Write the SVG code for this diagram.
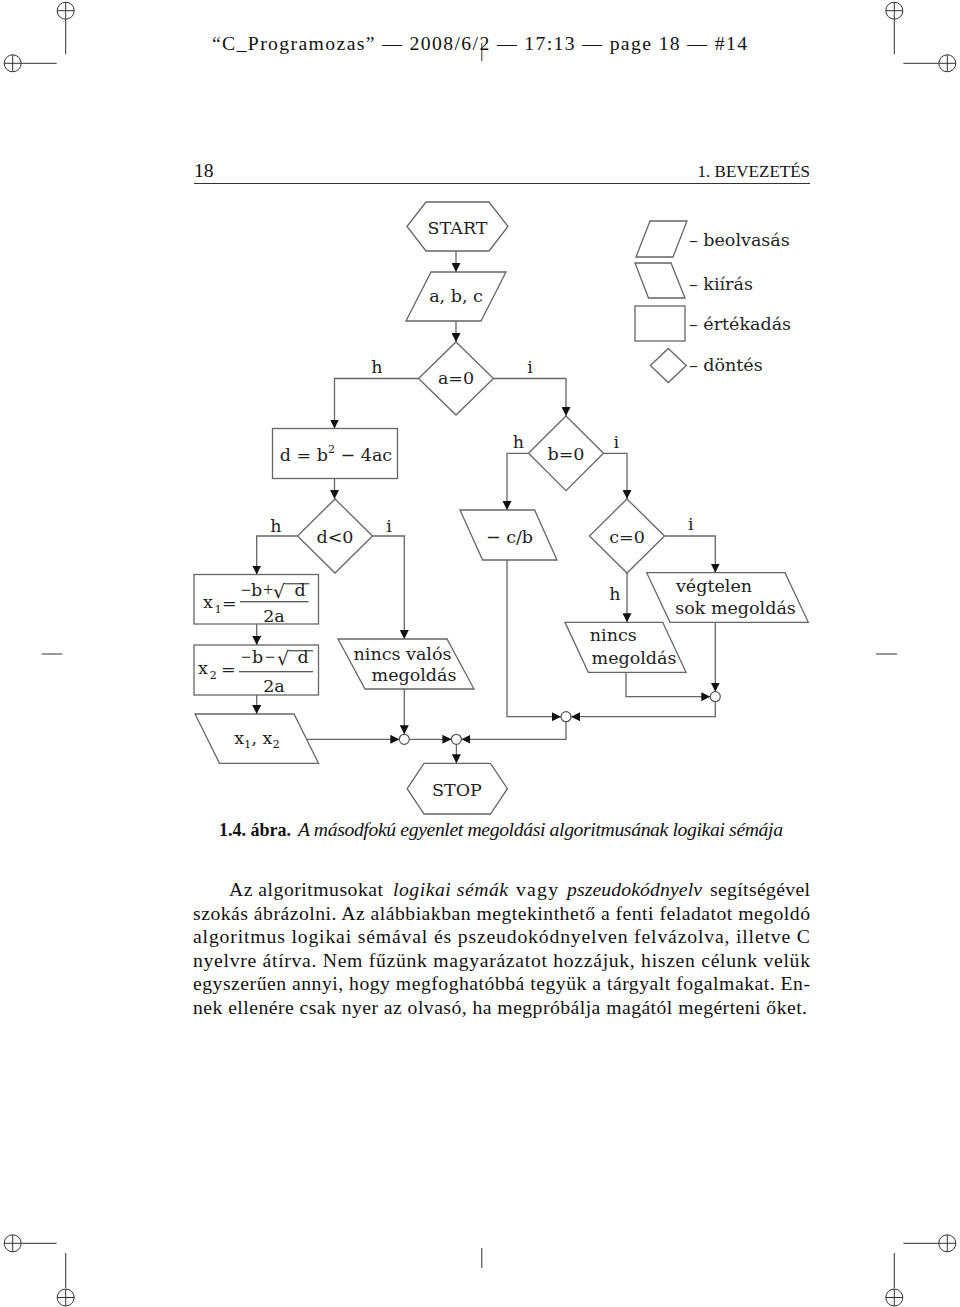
<svg xmlns="http://www.w3.org/2000/svg" width="960" height="1307" viewBox="0 0 960 1307">
<style>
.sh{fill:#fff;stroke:#666;stroke-width:1.3}
.cn{fill:none;stroke:#666;stroke-width:1.3}
.jn{fill:#fff;stroke:#555;stroke-width:1.2}
.t{font-family:"DejaVu Serif",serif;font-size:17.5px;fill:#222;text-anchor:middle}
.tl{font-family:"DejaVu Serif",serif;font-size:17.5px;fill:#222}
.op{font-family:"Liberation Serif",serif;font-size:18px;fill:#222;text-anchor:middle}
.sub{font-family:"DejaVu Serif",serif;font-size:11.5px;fill:#222}
.pg{font-family:"Liberation Serif",serif;font-size:19.7px;fill:#111}
.it{font-style:italic}
.bd{font-weight:bold}
.mk{fill:none;stroke:#333;stroke-width:1}
</style>
<defs>
<marker id="ah" viewBox="0 0 10 10" refX="10" refY="5" markerWidth="9" markerHeight="9" markerUnits="userSpaceOnUse" orient="auto"><path d="M0,0 L10,5 L0,10 z" fill="#111"/></marker>
<g id="reg"><ellipse cx="0" cy="0" rx="8.5" ry="8.5"/><line x1="-8.5" y1="0" x2="8.5" y2="0"/><line x1="0" y1="-8.5" x2="0" y2="8.5"/></g>
</defs>

<!-- page marks -->
<g id="page-marks" class="mk">
<use href="#reg" x="65.7" y="10.7"/><line x1="65.7" y1="19.3" x2="65.7" y2="54.3"/>
<use href="#reg" x="12.7" y="63.3"/><line x1="21.3" y1="63.3" x2="56.7" y2="63.3"/>
<use href="#reg" x="894.3" y="10.7"/><line x1="894.3" y1="19.3" x2="894.3" y2="54.3"/>
<use href="#reg" x="947.3" y="63.3"/><line x1="903.3" y1="63.3" x2="938.7" y2="63.3"/>
<use href="#reg" x="12.7" y="1243.3"/><line x1="21.3" y1="1243.3" x2="56.7" y2="1243.3"/>
<use href="#reg" x="65.7" y="1297.5"/><line x1="65.7" y1="1253" x2="65.7" y2="1288"/>
<use href="#reg" x="947.3" y="1243.3"/><line x1="903.3" y1="1243.3" x2="938.7" y2="1243.3"/>
<use href="#reg" x="894.3" y="1297.5"/><line x1="894.3" y1="1253" x2="894.3" y2="1288"/>
<line x1="481.8" y1="43" x2="481.8" y2="61"/>
<line x1="481.8" y1="1248" x2="481.8" y2="1268"/>
<line x1="41.7" y1="654" x2="62.3" y2="654"/>
<line x1="876" y1="654" x2="897" y2="654"/>
</g>

<text class="pg" x="212" y="50" textLength="535" lengthAdjust="spacing">“C_Programozas” — 2008/6/2 — 17:13 — page 18 — #14</text>

<text class="pg" x="194" y="177">18</text>
<text class="pg" x="810" y="177" text-anchor="end" style="font-size:17px">1. BEVEZETÉS</text>
<line x1="194" y1="183.5" x2="810" y2="183.5" stroke="#333" stroke-width="1"/>

<!-- connectors -->
<g id="connectors" class="cn" marker-end="url(#ah)">
<line x1="456" y1="251" x2="456" y2="272"/>
<line x1="456" y1="321" x2="456" y2="342"/>
<polyline points="418.5,378.5 334.5,378.5 334.5,428.5"/>
<line x1="334.5" y1="478.5" x2="334.5" y2="499"/>
<polyline points="297.5,536 256.7,536 256.7,574.5"/>
<line x1="256.7" y1="624" x2="256.7" y2="645"/>
<line x1="256.7" y1="695" x2="256.7" y2="714"/>
<line x1="306.5" y1="739.3" x2="399.3" y2="739.3"/>
<polyline points="372.5,536 404.3,536 404.3,639"/>
<line x1="404.3" y1="689" x2="404.3" y2="734.3"/>
<line x1="409.3" y1="739.3" x2="451.4" y2="739.3"/>
<line x1="456.4" y1="744.3" x2="456.4" y2="763.3"/>
<polyline points="493.5,378.5 566,378.5 566,416"/>
<polyline points="528.5,453.3 507,453.3 507,510"/>
<polyline points="507,560 507,716.7 561,716.7"/>
<polyline points="603.5,453.3 627,453.3 627,499"/>
<line x1="627" y1="573" x2="627" y2="622.3"/>
<polyline points="626,672.3 626,696.7 710.3,696.7"/>
<polyline points="664.5,536 715.3,536 715.3,572.7"/>
<line x1="715.3" y1="622.3" x2="715.3" y2="691.7"/>
<polyline points="715.3,701.7 715.3,716.7 571,716.7"/>
<polyline points="566,721.7 566,739.3 461.4,739.3"/>
</g>

<!-- nodes -->
<g id="start"><polygon class="sh" points="407,226.5 426,202 489,202 508,226.5 489,251 426,251"/><text class="t" x="457.5" y="233.5">START</text></g>
<g id="input-abc"><polygon class="sh" points="431,272 506,272 481,321 406,321"/><text class="t" x="456" y="302">a, b, c</text></g>
<g id="dec-a0"><polygon class="sh" points="456,342 493.5,378.5 456,415 418.5,378.5"/><text class="t" x="456" y="384">a=0</text>
<text class="t" x="377" y="373">h</text><text class="t" x="530" y="373">i</text></g>
<g id="assign-d"><rect class="sh" x="272.5" y="428.5" width="125" height="50"/>
<text class="t" x="336" y="461">d = b<tspan style="font-size:11px" dy="-8">2</tspan><tspan dy="8"> − 4ac</tspan></text></g>
<g id="dec-d"><polygon class="sh" points="335,499 372.5,536 335,573 297.5,536"/><text class="t" x="335" y="543">d&lt;0</text>
<text class="t" x="276" y="531.5">h</text><text class="t" x="389" y="531.5">i</text></g>
<g id="assign-x1"><rect class="sh" x="194" y="574.5" width="124.5" height="49.5"/>
<text class="tl" x="203" y="608">x</text><text class="sub" x="214.5" y="613">1</text><text class="tl" x="222" y="609">=</text>
<text class="op" x="246" y="595.5">−</text><text class="t" x="256.5" y="596">b</text><text class="op" x="268" y="596">+</text>
<text class="tl" x="273" y="598" style="font-size:19px">√</text><line x1="285" y1="583.8" x2="309.5" y2="583.8" stroke="#222" stroke-width="1"/>
<text class="t" x="300" y="596">d</text>
<line x1="240" y1="601.7" x2="308.5" y2="601.7" stroke="#222" stroke-width="1.1"/>
<text class="t" x="274" y="622">2a</text></g>
<g id="assign-x2"><rect class="sh" x="194" y="645" width="124.5" height="50"/>
<text class="tl" x="198" y="674">x</text><text class="sub" x="209.5" y="679">2</text><text class="tl" x="221" y="675">=</text>
<text class="op" x="246" y="662.5">−</text><text class="t" x="257.5" y="663">b</text><text class="op" x="270" y="662.5">−</text>
<text class="tl" x="277" y="665" style="font-size:19px">√</text><line x1="289" y1="650.8" x2="313" y2="650.8" stroke="#222" stroke-width="1"/>
<text class="t" x="303" y="663">d</text>
<line x1="239" y1="671.7" x2="313" y2="671.7" stroke="#222" stroke-width="1.1"/>
<text class="t" x="274" y="691.5">2a</text></g>
<g id="out-x"><polygon class="sh" points="195,714 294,714 318.5,763.3 219.5,763.3"/>
<text class="t" x="257" y="744">x<tspan style="font-size:11.5px" dy="4">1</tspan><tspan dy="-4">, x</tspan><tspan style="font-size:11.5px" dy="4">2</tspan></text></g>
<g id="out-noreal"><polygon class="sh" points="338,639 447,639 474,689 365,689"/>
<text class="t" x="402.5" y="659.5">nincs valós</text><text class="t" x="414" y="680.5">megoldás</text></g>
<g id="dec-b"><polygon class="sh" points="566,416 603.5,453.3 566,490.6 528.5,453.3"/><text class="t" x="566" y="460">b=0</text>
<text class="t" x="518.4" y="448">h</text><text class="t" x="616.4" y="448">i</text></g>
<g id="out-cb"><polygon class="sh" points="460,510 534.6,510 557,560 482.6,560"/><text class="t" x="509.5" y="543">− c/b</text></g>
<g id="dec-c"><polygon class="sh" points="627,499 664.5,536 627,573 589.5,536"/><text class="t" x="627" y="543">c=0</text>
<text class="t" x="690.7" y="530">i</text><text class="t" x="615" y="600">h</text></g>
<g id="out-nosol"><polygon class="sh" points="565,622.3 662.7,622.3 686,672.3 588.3,672.3"/>
<text class="t" x="613.3" y="640.5">nincs</text><text class="t" x="634" y="663.5">megoldás</text></g>
<g id="out-inf"><polygon class="sh" points="646.7,572.7 785,572.7 808.3,622.3 670,622.3"/>
<text class="t" x="714" y="592">végtelen</text><text class="t" x="735.5" y="613.5">sok megoldás</text></g>
<g id="join-d"><circle class="jn" cx="715.3" cy="696.7" r="5"/></g>
<g id="join-c"><circle class="jn" cx="566" cy="716.7" r="5"/></g>
<g id="join-a"><circle class="jn" cx="404.3" cy="739.3" r="5"/></g>
<g id="join-b"><circle class="jn" cx="456.4" cy="739.3" r="5"/></g>
<g id="stop"><polygon class="sh" points="407.2,788.7 424,763.3 490.5,763.3 507.4,788.7 490.5,814 424,814"/><text class="t" x="457" y="795.5">STOP</text></g>

<!-- legend -->
<g id="legend-input"><polygon class="sh" points="650,221 687,221 673,257 636,257"/><text class="tl" x="689" y="246">– beolvasás</text></g>
<g id="legend-output"><polygon class="sh" points="635,263 671,263 685,298 648.5,298"/><text class="tl" x="689" y="289.5">– kiírás</text></g>
<g id="legend-assign"><rect class="sh" x="635" y="306" width="50" height="35"/><text class="tl" x="689" y="329.5">– értékadás</text></g>
<g id="legend-decision"><polygon class="sh" points="668.3,348.5 686.3,365.5 668.3,382.5 650.3,365.5"/><text class="tl" x="689" y="371">– döntés</text></g>

<!-- caption and body text -->
<text class="pg bd" x="219" y="836" textLength="72" lengthAdjust="spacingAndGlyphs">1.4. ábra.</text>
<text class="pg it" x="298" y="836" textLength="485" lengthAdjust="spacing">A másodfokú egyenlet megoldási algoritmusának logikai sémája</text>

<text class="pg" x="229" y="896" textLength="154" lengthAdjust="spacing">Az algoritmusokat</text>
<text class="pg it" x="393" y="896" textLength="115" lengthAdjust="spacing">logikai sémák</text>
<text class="pg" x="516" y="896" textLength="42" lengthAdjust="spacing">vagy</text>
<text class="pg it" x="567" y="896" textLength="135" lengthAdjust="spacing">pszeudokódnyelv</text>
<text class="pg" x="710" y="896" textLength="100" lengthAdjust="spacing">segítségével</text>
<text class="pg" x="193" y="919.6" textLength="617" lengthAdjust="spacing">szokás ábrázolni. Az alábbiakban megtekinthető a fenti feladatot megoldó</text>
<text class="pg" x="193" y="943.2" textLength="617" lengthAdjust="spacing">algoritmus logikai sémával és pszeudokódnyelven felvázolva, illetve C</text>
<text class="pg" x="193" y="966.8" textLength="617" lengthAdjust="spacing">nyelvre átírva. Nem fűzünk magyarázatot hozzájuk, hiszen célunk velük</text>
<text class="pg" x="193" y="990.4" textLength="617" lengthAdjust="spacing">egyszerűen annyi, hogy megfoghatóbbá tegyük a tárgyalt fogalmakat. En-</text>
<text class="pg" x="193" y="1014" textLength="614" lengthAdjust="spacing">nek ellenére csak nyer az olvasó, ha megpróbálja magától megérteni őket.</text>
</svg>
